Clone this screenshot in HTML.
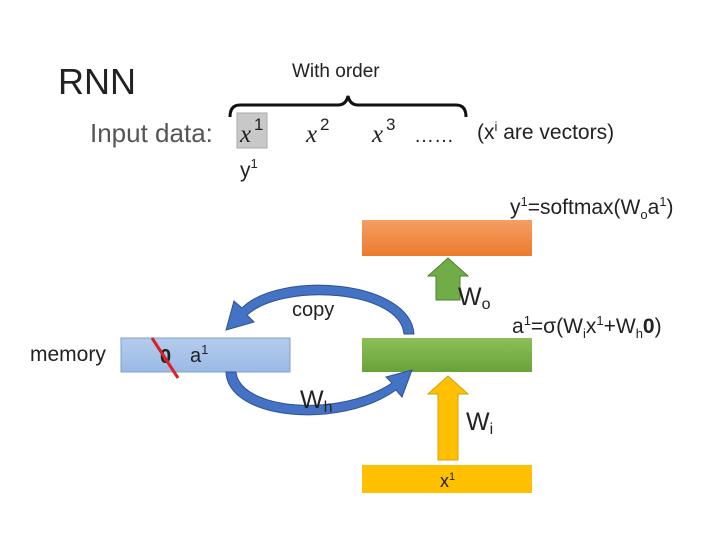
<!DOCTYPE html>
<html><head><style>
body{margin:0;background:#fff;}
svg{display:block;font-family:"Liberation Sans","DejaVu Sans",sans-serif;}
</style></head><body>
<svg width="720" height="540" viewBox="0 0 720 540">
<defs>
<linearGradient id="or" x1="0" y1="0" x2="0" y2="1"><stop offset="0" stop-color="#f4a064"/><stop offset="1" stop-color="#ec7a2c"/></linearGradient>
<linearGradient id="gr" x1="0" y1="0" x2="0" y2="1"><stop offset="0" stop-color="#8cc056"/><stop offset="1" stop-color="#6aa23a"/></linearGradient>
<linearGradient id="bl" x1="0" y1="0" x2="0" y2="1"><stop offset="0" stop-color="#b4cdee"/><stop offset="1" stop-color="#9ab9e4"/></linearGradient>
</defs>
<text x="58" y="94" font-size="36" fill="#222">RNN</text>
<text x="292" y="77" font-size="19" fill="#222">With order</text>
<path d="M230 117 Q230 105 240 105 L338 105 Q346 105 348 96 Q350 105 358 105 L456 105 Q466 105 466 117" fill="none" stroke="#111" stroke-width="3"/>
<text x="90" y="142" font-size="26" fill="#555">Input data:</text>
<rect x="237" y="113" width="30" height="35" fill="#c8c8c8" stroke="#aaa"/>
<text x="240" y="142" font-size="25" font-style="italic" font-family="Liberation Serif,serif" fill="#222">x</text>
<text x="254" y="130" font-size="17" fill="#222">1</text>
<text x="306" y="142" font-size="25" font-style="italic" font-family="Liberation Serif,serif" fill="#222">x</text>
<text x="320" y="130" font-size="17" fill="#222">2</text>
<text x="372" y="142" font-size="25" font-style="italic" font-family="Liberation Serif,serif" fill="#222">x</text>
<text x="386" y="130" font-size="17" fill="#222">3</text>
<text x="414" y="142" font-size="20" fill="#222">……</text>
<text x="477" y="139" font-size="21" fill="#222">(x<tspan font-size="13" dy="-8">i</tspan><tspan dy="8"> are vectors)</tspan></text>
<text x="240" y="177" font-size="21" fill="#222">y<tspan font-size="13" dy="-9">1</tspan></text>
<text x="510" y="214" font-size="21" fill="#222">y<tspan font-size="13" dy="-8">1</tspan><tspan dy="8">=softmax(W</tspan><tspan font-size="13" dy="5">o</tspan><tspan dy="-5">a</tspan><tspan font-size="13" dy="-8">1</tspan><tspan dy="8">)</tspan></text>
<rect x="362" y="220" width="170" height="36" fill="url(#or)"/>
<polygon points="436,300 436,276 428,276 448,258 468,276 460,276 460,300" fill="#70ad47" stroke="#507e32" stroke-width="1"/>
<text x="458" y="305" font-size="25" fill="#222">W<tspan font-size="16" dy="4">o</tspan></text>
<text x="512" y="333" font-size="21" fill="#222">a<tspan font-size="13" dy="-8">1</tspan><tspan dy="8">=σ(W</tspan><tspan font-size="13" dy="5">i</tspan><tspan dy="-5">x</tspan><tspan font-size="13" dy="-8">1</tspan><tspan dy="8">+W</tspan><tspan font-size="13" dy="5">h</tspan><tspan dy="-5" font-weight="bold">0</tspan><tspan>)</tspan></text>
<text x="292" y="316" font-size="20" fill="#222">copy</text>
<path d="M414 334 C410 280 280 270 242 308 L234 301 L226 330 L254 322 L247 315 C284 282 400 290 404 334 Z" fill="#4472c4" stroke="#2f528f" stroke-width="1"/>
<text x="30" y="361" font-size="21" fill="#222">memory</text>
<rect x="121" y="338" width="169" height="34" fill="url(#bl)" stroke="#7f9fc9"/>
<text x="160" y="363" font-size="20" font-weight="bold" fill="#222">0</text>
<line x1="152" y1="338" x2="178" y2="378" stroke="#e02020" stroke-width="3"/>
<text x="190" y="362" font-size="20" fill="#222">a<tspan font-size="13" dy="-8">1</tspan></text>
<rect x="362" y="338" width="170" height="34" fill="url(#gr)"/>
<path d="M226 372 C228 420 340 430 396 390 L402 397 L412 370 L386 377 L392 383 C340 418 240 410 236 372 Z" fill="#4472c4" stroke="#2f528f" stroke-width="1"/>
<text x="300" y="408" font-size="25" fill="#222">W<tspan font-size="16" dy="4">h</tspan></text>
<polygon points="438,460 438,394 428,394 448,376 468,394 458,394 458,460" fill="#ffc000" stroke="#d6a000" stroke-width="1"/>
<text x="466" y="430" font-size="25" fill="#222">W<tspan font-size="16" dy="4">i</tspan></text>
<rect x="362" y="465" width="170" height="28" fill="#ffc000"/>
<text x="440" y="487" font-size="18" fill="#222">x<tspan font-size="11" dy="-7">1</tspan></text>
</svg>
</body></html>
